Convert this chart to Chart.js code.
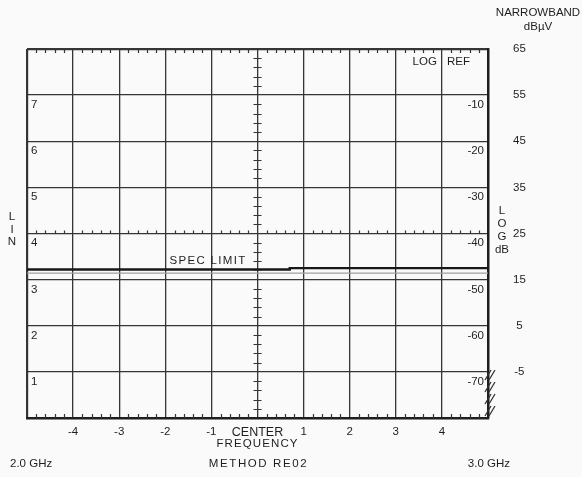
<!DOCTYPE html>
<html>
<head>
<meta charset="utf-8">
<script src="https://cdn.jsdelivr.net/npm/chart.js@4.4.1/dist/chart.umd.min.js"></script>
<style>
  html, body { margin: 0; padding: 0; background: #fafafa; }
  canvas { display: block; }
</style>
</head>
<body>
<canvas id="chart" width="582" height="477"></canvas>
<script>
// graticule values
const freqTicks = [-5, -4, -3, -2, -1, 0, 1, 2, 3, 4, 5];
const dbuvTicks = [-15, -5, 5, 15, 25, 35, 45, 55, 65];
const linLabels = ["1", "2", "3", "4", "5", "6", "7"];
const logLabels = ["-70", "-60", "-50", "-40", "-30", "-20", "-10"];

// hand drawn spec limit and the faint line under it
const specFreq = [-5, 0.7, 0.7, 5];
const specLevel = [17.2, 17.2, 17.5, 17.5];
const faintFreq = [-5, 5];
const faintLevel = [16.4, 16.4];

const INK = "#1e1e1e";
const GRID = "#353535";
const FONT = "'Liberation Sans', Arial, sans-serif";

const toPoints = (xs, ys) => xs.map((x, i) => ({ x: x, y: ys[i] }));

const decor = {
  id: "decor",
  beforeDraw(chart) {
    chart.ctx.letterSpacing = "0px";
  },
  afterDraw(chart) {
    const ctx = chart.ctx;
    const xs = chart.scales.x;
    const ys = chart.scales.y;
    const { left, right, top, bottom } = chart.chartArea;
    const cx = xs.getPixelForValue(0);

    ctx.save();
    ctx.strokeStyle = GRID;
    ctx.lineWidth = 1.2;
    ctx.beginPath();
    // minor ticks on top and bottom borders, and on the 25 dBuV line
    const mid = ys.getPixelForValue(25);
    for (let i = -25; i <= 25; i++) {
      if (i % 5 === 0) continue;
      const px = Math.round(xs.getPixelForValue(i / 5)) + 0.5;
      ctx.moveTo(px, top);
      ctx.lineTo(px, top + 4);
      ctx.moveTo(px, bottom);
      ctx.lineTo(px, bottom - 4);
      ctx.moveTo(px, mid);
      ctx.lineTo(px, mid - 3);
    }
    // minor ticks on the centre line
    for (let v = -15; v <= 65; v += 2) {
      if ((v + 15) % 10 === 0) continue;
      const py = Math.round(ys.getPixelForValue(v)) + 0.5;
      ctx.moveTo(cx - 4, py);
      ctx.lineTo(cx + 4, py);
    }
    ctx.stroke();

    // hatch at the lower right corner
    ctx.lineWidth = 1.3;
    ctx.beginPath();
    const yb = ys.getPixelForValue(-5);
    for (let yy = bottom; yy > yb + 6; yy -= 12) {
      ctx.moveTo(right - 3, yy - 2);
      ctx.lineTo(right + 3, yy - 12);
      ctx.moveTo(right + 1, yy - 2);
      ctx.lineTo(right + 7, yy - 12);
    }
    ctx.stroke();

    ctx.fillStyle = INK;
    ctx.font = "11.5px " + FONT;
    ctx.textBaseline = "top";
    // LIN and LOG numbers inside the graticule
    linLabels.forEach((t, i) => {
      const py = ys.getPixelForValue(-5 + i * 10);
      ctx.textAlign = "left";
      ctx.fillText(t, left + 4, py + 4);
      ctx.textAlign = "right";
      ctx.fillText(logLabels[i], right - 4, py + 4);
    });
    const x4 = xs.getPixelForValue(4);
    ctx.textBaseline = "middle";
    ctx.textAlign = "right";
    ctx.fillText("LOG", x4 - 5, top + 13);
    ctx.textAlign = "left";
    ctx.fillText("REF", x4 + 5, top + 13);

    // spec limit caption, spaced out like the original lettering
    ctx.letterSpacing = "1.3px";
    ctx.textAlign = "right";
    ctx.textBaseline = "alphabetic";
    ctx.fillText("SPEC LIMIT", cx - 11, ys.getPixelForValue(17.4) - 5);
    ctx.letterSpacing = "0px";

    // side captions
    ctx.textAlign = "center";
    ctx.textBaseline = "middle";
    ["L", "I", "N"].forEach((t, i) => ctx.fillText(t, 12, 217 + i * 12.5));
    ["L", "O", "G", "dB"].forEach((t, i) => ctx.fillText(t, right + 14, 211 + i * 13));
    ctx.fillText("NARROWBAND", 538, 13);
    ctx.fillText("dB\u00b5V", 538, 27);

    // bottom captions
    ctx.textAlign = "left";
    ctx.fillText("2.0 GHz", 10, 464);
    ctx.textAlign = "right";
    ctx.fillText("3.0 GHz", 510, 464);
    ctx.textAlign = "center";
    ctx.letterSpacing = "1.6px";
    ctx.fillText("METHOD RE02", cx + 1, 464);
    ctx.letterSpacing = "1.1px";
    ctx.fillText("FREQUENCY", cx, 444);
    ctx.letterSpacing = "0px";
    ctx.restore();
  },
};

new Chart(document.getElementById("chart"), {
  type: "scatter",
  data: {
    datasets: [
      {
        data: toPoints(specFreq, specLevel),
        showLine: true,
        borderColor: "#181818",
        borderWidth: 2.4,
        pointRadius: 0,
      },
      {
        data: toPoints(faintFreq, faintLevel),
        showLine: true,
        borderColor: "#a0a0a0",
        borderWidth: 1.2,
        pointRadius: 0,
      },
    ],
  },
  options: {
    responsive: false,
    animation: false,
    devicePixelRatio: 1,
    layout: { padding: { top: 49, left: 27, right: 0, bottom: 0 } },
    plugins: {
      legend: { display: false },
      tooltip: { enabled: false },
    },
    scales: {
      x: {
        type: "linear",
        min: -5,
        max: 5,
        afterBuildTicks: (scale) => {
          scale.ticks = freqTicks.map((v) => ({ value: v }));
        },
        afterFit: (scale) => {
          scale.height = 59;
        },
        ticks: {
          autoSkip: false,
          maxRotation: 0,
          padding: 7,
          color: INK,
          font: (c) => ({ family: FONT, size: c.tick && c.tick.value === 0 ? 12.5 : 11.5 }),
          callback: (v) => {
            if (v === -5 || v === 5) return "";
            if (v === 0) return "CENTER";
            return String(v);
          },
        },
        grid: {
          color: GRID,
          drawTicks: false,
          lineWidth: (c) => (c.tick && Math.abs(c.tick.value) === 5 ? 2.2 : 1.3),
        },
        border: { color: INK, width: 2.4 },
      },
      y: {
        type: "linear",
        position: "right",
        min: -15,
        max: 65,
        afterBuildTicks: (scale) => {
          scale.ticks = dbuvTicks.map((v) => ({ value: v }));
        },
        afterFit: (scale) => {
          scale.width = 94;
        },
        ticks: {
          crossAlign: "center",
          padding: 25,
          color: INK,
          font: { family: FONT, size: 11.5 },
          callback: (v) => (v === -15 ? "" : String(v)),
        },
        grid: {
          color: GRID,
          drawTicks: false,
          lineWidth: (c) => (c.tick && c.tick.value === 65 ? 2.2 : 1.3),
        },
        border: { color: INK, width: 2.4 },
      },
    },
  },
  plugins: [decor],
});
</script>
</body>
</html>
